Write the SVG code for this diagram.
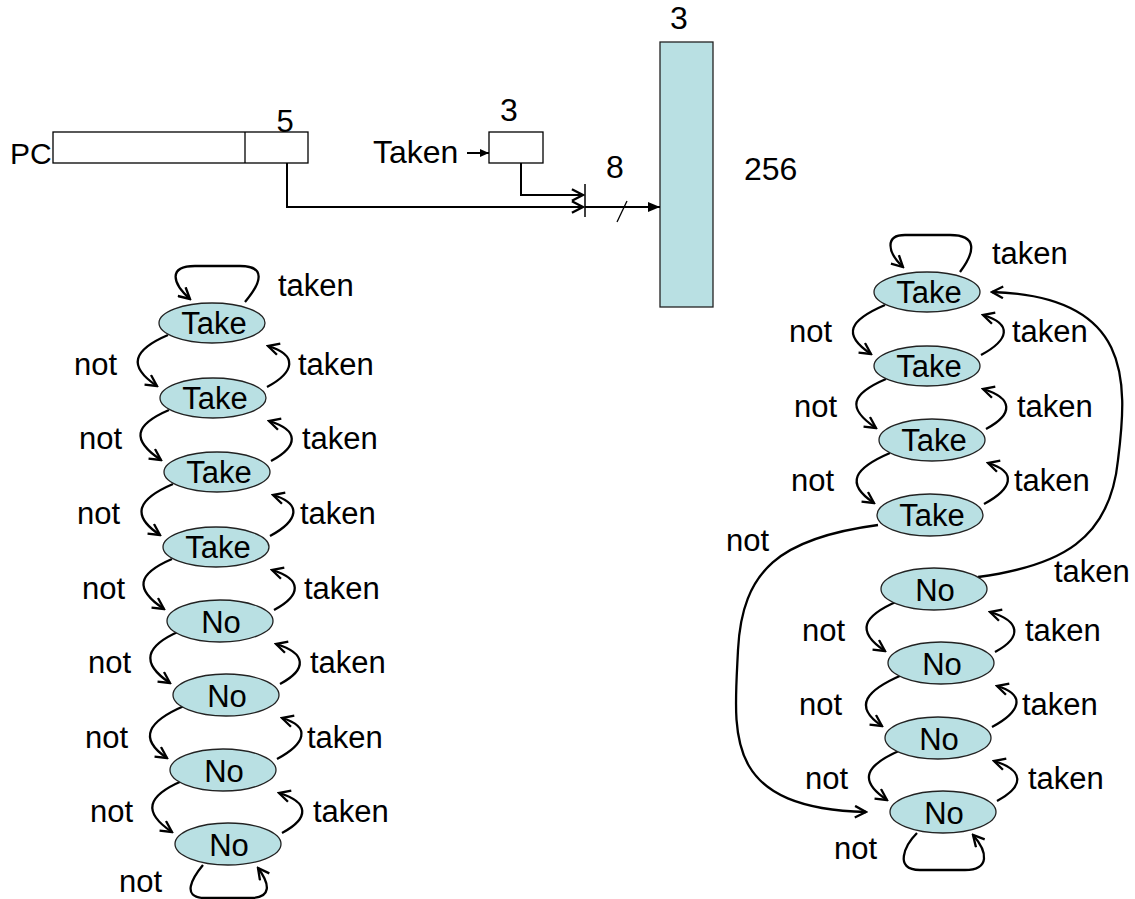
<svg xmlns="http://www.w3.org/2000/svg" width="1135" height="899" viewBox="0 0 1135 899">
<defs>
<marker id="open" markerUnits="userSpaceOnUse" markerWidth="14" markerHeight="14" viewBox="0 0 12 12" refX="10.5" refY="6" orient="auto">
<path d="M1,1 L10.5,6 L1,11" fill="none" stroke="#000" stroke-width="2"/>
</marker>
<marker id="fill" markerUnits="userSpaceOnUse" markerWidth="12" markerHeight="10" viewBox="0 0 12 10" refX="12" refY="5" orient="auto">
<path d="M0,0 L12,5 L0,10 Z" fill="#000"/>
</marker>
<marker id="fillsm" markerUnits="userSpaceOnUse" markerWidth="9" markerHeight="8" viewBox="0 0 9 8" refX="9" refY="4" orient="auto">
<path d="M0,0 L9,4 L0,8 Z" fill="#000"/>
</marker>
</defs>
<style>
text{font-family:"Liberation Sans",Arial,sans-serif;font-size:31px;fill:#000}
.big{font-size:32px}
.st{fill:#B9E0E3;stroke:#222;stroke-width:1.3}
.box{fill:#fff;stroke:#000;stroke-width:1.3}
.c{fill:none;stroke:#000;stroke-width:2.3}
.w{fill:none;stroke:#000;stroke-width:2}
.m{text-anchor:middle}
</style>
<rect width="1135" height="899" fill="#fff"/>

<g id="pc">
<text x="10" y="164" style="font-size:30px">PC</text>
<rect class="box" x="53" y="132" width="255" height="31"/>
<line x1="245" y1="132" x2="245" y2="163" stroke="#000" stroke-width="1.3"/>
<text class="m" x="285" y="132">5</text>
</g>
<g id="history">
<text class="big" x="373" y="163">Taken</text>
<rect class="box" x="489" y="132" width="54" height="31"/>
<text class="m big" x="509" y="121">3</text>
</g>
<g id="table">
<rect x="660" y="42" width="53" height="265" fill="#B9E0E3" stroke="#222" stroke-width="1.3"/>
<text class="m big" x="679" y="29">3</text>
<text class="big" x="744" y="180">256</text>
<text class="m big" x="615" y="178">8</text>
</g>

<g id="connectors">
<line class="w" x1="467" y1="153" x2="489" y2="153" marker-end="url(#fillsm)"/>
<polyline class="w" points="287,163 287,207 583,207" marker-end="url(#open)"/>
<polyline class="w" points="521,163 521,195 583,195" marker-end="url(#open)"/>
<line x1="585" y1="184" x2="585" y2="217" stroke="#000" stroke-width="1.5"/>
<line class="w" x1="585" y1="207" x2="660" y2="207" marker-end="url(#fill)"/>
<line x1="617" y1="222" x2="627" y2="201" stroke="#000" stroke-width="1.3"/>

<path class="c" d="M245,302 C262,282 266,266 240,266 L195,266 C168,266 172,283 190,299" marker-end="url(#open)"/>
<path class="c" d="M203,865 C193,877 180,898 205,898 L250,898 C272,898 270,884 258,868" marker-end="url(#open)"/>
<path class="c" d="M168,335 C133,350 127,366 157,386" marker-end="url(#open)"/>
<path class="c" d="M169,410 C134,425 131,440 161,460" marker-end="url(#open)"/>
<path class="c" d="M173,484 C138,499 130,515 160,535" marker-end="url(#open)"/>
<path class="c" d="M172,559 C137,574 134,589 164,609" marker-end="url(#open)"/>
<path class="c" d="M180,631 C145,646 140,663 170,683" marker-end="url(#open)"/>
<path class="c" d="M184,706 C149,721 137,738 167,758" marker-end="url(#open)"/>
<path class="c" d="M182,781 C147,796 142,812 172,832" marker-end="url(#open)"/>
<path class="c" d="M267,387 C295,372 298,355 268,346" marker-end="url(#open)"/>
<path class="c" d="M271,461 C299,446 299,430 269,421" marker-end="url(#open)"/>
<path class="c" d="M270,536 C298,521 303,504 273,495" marker-end="url(#open)"/>
<path class="c" d="M274,610 C302,595 302,579 272,570" marker-end="url(#open)"/>
<path class="c" d="M280,684 C308,669 306,653 276,644" marker-end="url(#open)"/>
<path class="c" d="M277,759 C305,744 312,727 282,718" marker-end="url(#open)"/>
<path class="c" d="M282,833 C310,818 309,802 279,793" marker-end="url(#open)"/>

<path class="c" d="M960,272 C975,252 978,235 950,235 L905,235 C885,235 887,252 903,267" marker-end="url(#open)"/>
<path class="c" d="M917,833 C905,845 893,870 920,870 L965,870 C990,870 988,852 973,835" marker-end="url(#open)"/>
<path class="c" d="M885,305 C850,320 841,334 871,354" marker-end="url(#open)"/>
<path class="c" d="M886,379 C851,394 846,408 876,428" marker-end="url(#open)"/>
<path class="c" d="M890,453 C855,468 844,483 874,503" marker-end="url(#open)"/>
<path class="c" d="M898,601 C863,616 855,631 885,651" marker-end="url(#open)"/>
<path class="c" d="M902,675 C867,690 852,706 882,726" marker-end="url(#open)"/>
<path class="c" d="M901,750 C866,765 857,780 887,800" marker-end="url(#open)"/>
<path class="c" d="M981,355 C1009,340 1013,324 983,315" marker-end="url(#open)"/>
<path class="c" d="M986,429 C1014,414 1013,398 983,389" marker-end="url(#open)"/>
<path class="c" d="M984,504 C1012,489 1018,472 988,463" marker-end="url(#open)"/>
<path class="c" d="M995,652 C1023,637 1020,621 990,612" marker-end="url(#open)"/>
<path class="c" d="M992,727 C1020,712 1027,695 997,686" marker-end="url(#open)"/>
<path class="c" d="M997,801 C1025,786 1024,770 994,761" marker-end="url(#open)"/>
<path class="c" d="M878,525 C780,538 742,570 738,650 C734,735 722,808 866,812" marker-end="url(#open)"/>
<path class="c" d="M978,577 C1060,566 1110,540 1118,460 C1128,380 1132,296 992,292" marker-end="url(#open)"/>
</g>

<g id="L1"><ellipse class="st" cx="212" cy="323" rx="53" ry="20"/><text class="m" x="214" y="334">Take</text></g>
<g id="L2"><ellipse class="st" cx="213" cy="398" rx="53" ry="20"/><text class="m" x="215" y="409">Take</text></g>
<g id="L3"><ellipse class="st" cx="217" cy="472" rx="53" ry="20"/><text class="m" x="219" y="483">Take</text></g>
<g id="L4"><ellipse class="st" cx="216" cy="547" rx="53" ry="20"/><text class="m" x="218" y="558">Take</text></g>
<g id="L5"><ellipse class="st" cx="220" cy="621" rx="53" ry="21"/><text class="m" x="221" y="633">No</text></g>
<g id="L6"><ellipse class="st" cx="226" cy="695" rx="53" ry="21"/><text class="m" x="227" y="707">No</text></g>
<g id="L7"><ellipse class="st" cx="223" cy="770" rx="53" ry="21"/><text class="m" x="224" y="782">No</text></g>
<g id="L8"><ellipse class="st" cx="228" cy="844" rx="53" ry="21"/><text class="m" x="229" y="856">No</text></g>

<g id="R1"><ellipse class="st" cx="927" cy="292" rx="53" ry="20"/><text class="m" x="929" y="303">Take</text></g>
<g id="R2"><ellipse class="st" cx="927" cy="366" rx="53" ry="20"/><text class="m" x="929" y="377">Take</text></g>
<g id="R3"><ellipse class="st" cx="932" cy="440" rx="53" ry="21"/><text class="m" x="934" y="451">Take</text></g>
<g id="R4"><ellipse class="st" cx="930" cy="515" rx="53" ry="21"/><text class="m" x="932" y="526">Take</text></g>
<g id="R5"><ellipse class="st" cx="934" cy="589" rx="53" ry="21"/><text class="m" x="935" y="601">No</text></g>
<g id="R6"><ellipse class="st" cx="941" cy="663" rx="53" ry="21"/><text class="m" x="942" y="675">No</text></g>
<g id="R7"><ellipse class="st" cx="938" cy="738" rx="53" ry="21"/><text class="m" x="939" y="750">No</text></g>
<g id="R8"><ellipse class="st" cx="943" cy="812" rx="53" ry="21"/><text class="m" x="944" y="824">No</text></g>

<g id="labels">
<text x="278" y="296">taken</text>
<text x="74" y="375">not</text><text x="298" y="375">taken</text>
<text x="79" y="449">not</text><text x="302" y="449">taken</text>
<text x="77" y="524">not</text><text x="300" y="524">taken</text>
<text x="82" y="599">not</text><text x="304" y="599">taken</text>
<text x="88" y="673">not</text><text x="310" y="673">taken</text>
<text x="85" y="748">not</text><text x="307" y="748">taken</text>
<text x="90" y="822">not</text><text x="313" y="822">taken</text>
<text x="119" y="892">not</text>

<text x="992" y="264">taken</text>
<text x="789" y="342">not</text><text x="1012" y="342">taken</text>
<text x="794" y="417">not</text><text x="1017" y="417">taken</text>
<text x="791" y="491">not</text><text x="1014" y="491">taken</text>
<text x="726" y="551">not</text>
<text x="1054" y="582">taken</text>
<text x="802" y="641">not</text><text x="1025" y="641">taken</text>
<text x="799" y="715">not</text><text x="1022" y="715">taken</text>
<text x="805" y="789">not</text><text x="1028" y="789">taken</text>
<text x="834" y="859">not</text>
</g>
</svg>
